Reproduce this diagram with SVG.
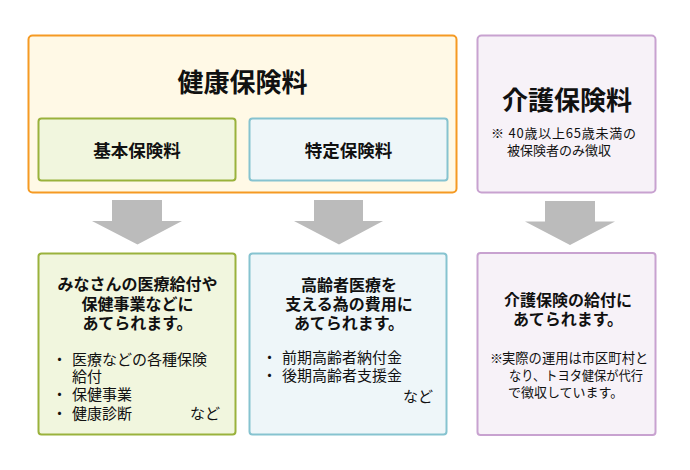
<svg xmlns="http://www.w3.org/2000/svg" width="690" height="470" viewBox="0 0 690 470">
<style>
text{font-family:"Noto Sans CJK JP","Noto Sans",sans-serif;fill:#111;dominant-baseline:central}
.b{font-weight:bold}
.c{text-anchor:middle}
.org{fill:#FFF9E6;stroke:#F59A23;stroke-width:2}
.grn{fill:#F1F6DE;stroke:#9AB23C;stroke-width:2}
.blu{fill:#EEF6F9;stroke:#86C3D0;stroke-width:2}
.pur{fill:#F7F2F8;stroke:#C8A2D0;stroke-width:2}
.arr{fill:#BBBBBB}
</style>
<rect width="690" height="470" fill="#FFFFFF"/>
<g id="kenko">
<rect class="org" x="28.5" y="35.5" width="428" height="157" rx="4"/>
<text class="b c" x="242.5" y="80" font-size="26">健康保険料</text>
</g>
<g id="kihon">
<rect class="grn" x="38.5" y="118.5" width="197" height="62" rx="3"/>
<text class="b c" x="137" y="149" font-size="17.5">基本保険料</text>
</g>
<g id="tokutei">
<rect class="blu" x="249.5" y="118.5" width="198" height="62" rx="3"/>
<text class="b c" x="348.5" y="149" font-size="17.5">特定保険料</text>
</g>
<g id="kaigo">
<rect class="pur" x="477.5" y="35.5" width="178" height="157" rx="4"/>
<text class="b c" x="567" y="98" font-size="26">介護保険料</text>
<text x="491" y="132.5" font-size="13" textLength="145" lengthAdjust="spacing">※ 40歳以上65歳未満の</text>
<text x="507" y="149" font-size="13">被保険者のみ徴収</text>
</g>
<g id="connectors">
<polygon class="arr" points="112,200 162,200 162,221 182,221 137.5,244.5 92,221 112,221"/>
<polygon class="arr" points="314,200 363,200 363,221 383,221 339,244.5 294,221 314,221"/>
<polygon class="arr" points="545,201 595,201 595,221.5 615,221.5 570,245 525,221.5 545,221.5"/>
</g>
<g id="kihon-use">
<rect class="grn" x="38.5" y="253.5" width="197" height="181" rx="3"/>
<text class="b c" x="137.5" y="283" font-size="16">みなさんの医療給付や</text>
<text class="b c" x="137.5" y="302.5" font-size="16">保健事業などに</text>
<text class="b c" x="137.5" y="321.5" font-size="16">あてられます。</text>
<text x="52" y="358" font-size="15">・</text>
<text x="72" y="358" font-size="15">医療などの各種保険</text>
<text x="72" y="375.5" font-size="15">給付</text>
<text x="52" y="393.5" font-size="15">・</text>
<text x="72" y="393.5" font-size="15">保健事業</text>
<text x="52" y="412" font-size="15">・</text>
<text x="72" y="412" font-size="15">健康診断</text>
<text x="190" y="412" font-size="15">など</text>
</g>
<g id="tokutei-use">
<rect class="blu" x="249.5" y="253.5" width="197" height="181" rx="3"/>
<text class="b c" x="349" y="283.5" font-size="16">高齢者医療を</text>
<text class="b c" x="349" y="302.5" font-size="16">支える為の費用に</text>
<text class="b c" x="349" y="321.5" font-size="16">あてられます。</text>
<text x="262" y="356.5" font-size="15">・</text>
<text x="282" y="356.5" font-size="15">前期高齢者納付金</text>
<text x="262" y="374" font-size="15">・</text>
<text x="282" y="374" font-size="15">後期高齢者支援金</text>
<text x="403" y="395" font-size="15">など</text>
</g>
<g id="kaigo-use">
<rect class="pur" x="477.5" y="253" width="178" height="182" rx="3"/>
<text class="b c" x="568" y="298.5" font-size="16">介護保険の給付に</text>
<text class="b c" x="568" y="317.5" font-size="16">あてられます。</text>
<text x="490" y="357" font-size="13">※</text>
<text x="502" y="357" font-size="13.3">実際の運用は市区町村と</text>
<text x="509" y="374.5" font-size="13" textLength="134" lengthAdjust="spacingAndGlyphs">なり、トヨタ健保が代行</text>
<text x="508" y="391.5" font-size="13">で徴収しています。</text>
</g>
</svg>
